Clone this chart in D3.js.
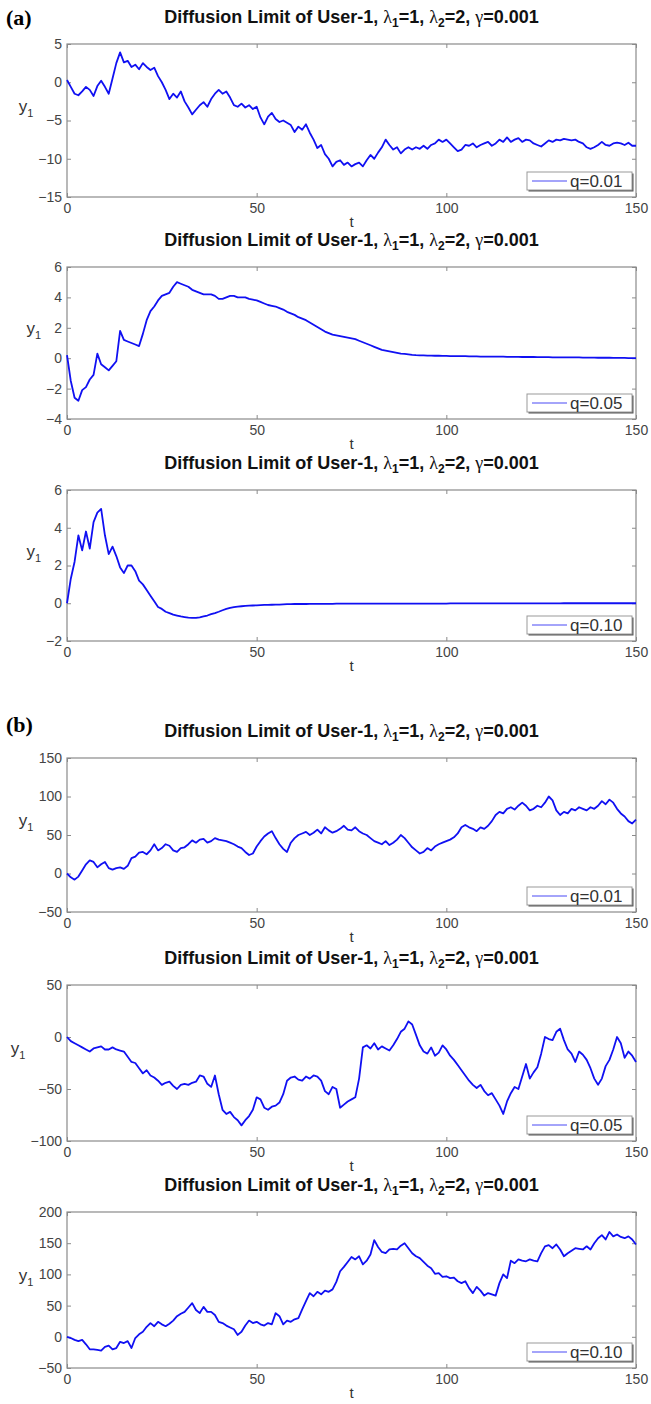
<!DOCTYPE html>
<html>
<head>
<meta charset="utf-8">
<script src="https://cdn.jsdelivr.net/npm/d3@7"></script>
<style>
  body { margin: 0; background: #fff; }
  text { font-family: "Liberation Sans", Arial, sans-serif; }
</style>
</head>
<body>
<script>
// ---- data (t = 0..150, one value per unit of t) ----
const xTicks = [0, 50, 100, 150];
const legendLabels = ["q=0.01", "q=0.05", "q=0.10", "q=0.01", "q=0.05", "q=0.10"];
const panelLetters = ["(a)", "(b)"];

const yTicksA1 = [-15, -10, -5, 0, 5];
const yTicksA2 = [-4, -2, 0, 2, 4, 6];
const yTicksA3 = [-2, 0, 2, 4, 6];
const yTicksB1 = [-50, 0, 50, 100, 150];
const yTicksB2 = [-100, -50, 0, 50];
const yTicksB3 = [-50, 0, 50, 100, 150, 200];

const seriesA1 = [
  0.3, -0.6, -1.5, -1.7, -1.2, -0.6, -1.0, -1.8, -0.5, 0.2,
  -0.6, -1.5, 0.5, 2.5, 3.9, 2.6, 2.8, 2.0, 2.3, 1.7,
  2.5, 2.0, 1.6, 1.9, 0.8, 0.0, -1.0, -2.2, -1.5, -2.0,
  -1.2, -2.5, -3.3, -4.2, -3.6, -3.0, -2.6, -3.2, -2.2, -1.5,
  -1.0, -1.5, -1.2, -2.0, -3.0, -3.2, -2.8, -3.3, -3.0, -3.5,
  -3.2, -4.6, -5.5, -4.5, -4.0, -4.8, -5.2, -5.0, -5.3, -5.6,
  -6.5, -5.8, -6.2, -5.5, -6.6, -7.5, -8.6, -8.2, -9.4, -10.0,
  -11.0, -10.4, -10.2, -10.8, -10.5, -11.0, -10.7, -10.5, -11.0, -10.2,
  -9.5, -10.0, -9.2, -8.5, -7.5, -8.2, -8.8, -8.5, -9.3, -8.8,
  -8.5, -8.8, -8.5, -8.7, -8.3, -8.7, -8.2, -8.0, -7.5, -7.8,
  -7.5, -8.0, -8.5, -9.0, -8.8, -8.2, -8.3, -8.0, -8.5, -8.2,
  -8.0, -7.8, -8.3, -8.0, -7.5, -7.8, -7.2, -7.8, -7.5, -7.3,
  -7.8, -7.5, -7.6, -8.0, -8.2, -8.4, -8.0, -7.6, -7.8, -7.5,
  -7.6, -7.4, -7.5, -7.6, -7.5, -7.8, -8.0, -8.5, -8.7, -8.5,
  -8.2, -7.8, -8.2, -8.3, -8.0, -7.9, -8.0, -8.2, -7.9, -8.3,
  -8.3
];

const seriesA2 = [
  0.2, -1.5, -2.6, -2.8, -2.1, -1.9, -1.4, -1.1, 0.3, -0.4,
  -0.6, -0.8, -0.5, -0.2, 1.8, 1.2, 1.1, 1.0, 0.9, 0.8,
  1.6, 2.5, 3.1, 3.4, 3.8, 4.1, 4.2, 4.3, 4.7, 5.0,
  4.9, 4.8, 4.7, 4.5, 4.4, 4.3, 4.2, 4.2, 4.2, 4.1,
  3.9, 3.9, 4.0, 4.1, 4.1, 4.0, 4.0, 4.0, 3.9, 3.85,
  3.8, 3.7, 3.6, 3.5, 3.45, 3.4, 3.3, 3.2, 3.05, 2.95,
  2.85, 2.7, 2.6, 2.5, 2.35, 2.2, 2.05, 1.9, 1.75, 1.65,
  1.55, 1.5, 1.45, 1.4, 1.35, 1.3, 1.25, 1.15, 1.05, 0.95,
  0.85, 0.75, 0.65, 0.55, 0.5, 0.45, 0.4, 0.35, 0.3, 0.28,
  0.25, 0.22, 0.2, 0.19, 0.18, 0.17, 0.17, 0.16, 0.16, 0.15,
  0.15, 0.14, 0.14, 0.13, 0.13, 0.13, 0.12, 0.12, 0.12, 0.11,
  0.11, 0.11, 0.1, 0.1, 0.1, 0.1, 0.09, 0.09, 0.09, 0.09,
  0.08, 0.08, 0.08, 0.08, 0.07, 0.07, 0.07, 0.07, 0.06, 0.06,
  0.06, 0.06, 0.05, 0.05, 0.05, 0.05, 0.04, 0.04, 0.04, 0.04,
  0.03, 0.03, 0.03, 0.03, 0.02, 0.02, 0.02, 0.02, 0.01, 0.01,
  0.0
];

const seriesA3 = [
  0.0, 1.3, 2.2, 3.6, 2.8, 3.8, 2.9, 4.3, 4.8, 5.0,
  3.6, 2.6, 3.0, 2.5, 1.9, 1.6, 2.0, 2.0, 1.7, 1.2,
  1.0, 0.7, 0.4, 0.1, -0.2, -0.3, -0.45, -0.52, -0.6, -0.65,
  -0.7, -0.73, -0.76, -0.78, -0.78, -0.75, -0.7, -0.65, -0.58, -0.52,
  -0.45, -0.37, -0.3, -0.25, -0.21, -0.18, -0.16, -0.14, -0.13, -0.12,
  -0.11, -0.1, -0.09, -0.09, -0.08, -0.07, -0.07, -0.06, -0.05, -0.05,
  -0.04, -0.04, -0.04, -0.04, -0.03, -0.03, -0.03, -0.03, -0.03, -0.03,
  -0.03, -0.02, -0.02, -0.02, -0.02, -0.02, -0.02, -0.02, -0.02, -0.02,
  -0.02, -0.02, -0.02, -0.02, -0.02, -0.02, -0.02, -0.02, -0.02, -0.02,
  -0.02, -0.02, -0.02, -0.02, -0.02, -0.02, -0.02, -0.02, -0.02, -0.02,
  -0.02, -0.01, -0.01, -0.01, -0.01, -0.01, -0.01, -0.01, -0.01, -0.01,
  -0.01, -0.01, -0.01, -0.01, -0.01, -0.01, -0.01, -0.01, -0.01, -0.01,
  -0.01, -0.01, -0.01, -0.01, -0.01, -0.01, -0.01, -0.01, -0.01, -0.01,
  -0.01, 0.0, 0.0, 0.0, 0.0, 0.0, 0.0, 0.0, 0.0, 0.0,
  0.0, 0.0, 0.0, 0.0, 0.0, 0.0, 0.0, 0.0, 0.0, 0.0,
  0.0
];

const seriesB1 = [
  0, -5, -8, -4, 4, 12, 17, 15, 8, 12,
  15, 7, 5, 7, 8, 6, 10, 20, 22, 27,
  28, 25, 30, 38, 30, 33, 38, 36, 30, 28,
  33, 34, 38, 43, 40, 44, 45, 40, 42, 46,
  44, 43, 42, 40, 38, 35, 33, 28, 24, 26,
  35, 42, 48, 52, 55, 46, 38, 32, 28, 40,
  46, 50, 52, 54, 50, 53, 57, 52, 60, 56,
  53, 55, 58, 62, 57, 56, 60, 55, 52, 50,
  46, 42, 40, 38, 42, 37, 40, 44, 50, 46,
  40, 34, 30, 26, 28, 33, 30, 35, 38, 40,
  42, 44, 47, 52, 60, 63, 60, 58, 55, 60,
  58, 62, 68, 76, 80, 78, 84, 86, 83, 88,
  92, 88, 82, 84, 88, 86, 92, 100, 95, 82,
  76, 80, 78, 84, 82, 86, 84, 82, 86, 84,
  88, 94, 90, 96, 92, 84, 78, 74, 68, 65,
  70
];

const seriesB2 = [
  0, -4, -6, -8, -10, -12, -14, -11, -10, -9,
  -12, -12, -10, -12, -13, -14, -19, -24, -25, -30,
  -35, -32, -37, -39, -42, -46, -44, -43, -47, -50,
  -46, -45, -46, -44, -43, -37, -38, -45, -48, -37,
  -55, -70, -74, -72, -77, -80, -85, -80, -76, -70,
  -58, -60, -68, -70, -67, -66, -63, -55, -42, -39,
  -38, -41, -42, -38, -40, -37, -38, -42, -52, -55,
  -48, -50, -68, -65, -62, -60, -58, -40, -10, -8,
  -11, -6, -12, -9, -11, -13, -8, -2, 5, 8,
  15, 12, 2, -8, -14, -16, -10, -18, -15, -8,
  -12, -18, -22, -27, -32, -37, -42, -46, -49, -46,
  -52, -56, -54, -60, -66, -74, -62, -54, -48, -50,
  -38, -26, -40, -34, -29, -16, 0, -2, -3, 5,
  8, -3, -12, -16, -24, -14, -17, -22, -30, -40,
  -46, -40, -28, -22, -12, 0, -6, -20, -14, -18,
  -24
];

const seriesB3 = [
  0, -2, -5, -7, -5, -12, -20, -20, -21, -22,
  -16, -14, -20, -18, -8, -10, -7, -18, -2, 4,
  8, 16, 22, 17, 24, 20, 17, 21, 26, 33,
  37, 40, 47, 54, 43, 38, 48, 40, 40, 35,
  24, 22, 18, 15, 12, 3, 8, 18, 26, 22,
  24, 20, 18, 22, 20, 38, 33, 20, 26, 24,
  28, 30, 44, 57, 70, 65, 72, 68, 74, 72,
  76, 88, 105, 112, 120, 128, 124, 129, 116, 122,
  132, 155, 144, 136, 134, 140, 141, 140, 146, 150,
  142, 134, 129, 126, 120, 114, 110, 101, 102, 96,
  97, 94, 95, 89, 86, 89, 78, 70, 80, 74,
  66, 70, 68, 66, 86, 100, 94, 122, 118, 124,
  122, 121, 124, 122, 121, 134, 145, 147, 142, 148,
  140, 129, 134, 138, 142, 141, 140, 145, 140, 150,
  158, 163, 156, 168, 161, 164, 160, 158, 161, 156,
  148
];

const seriesList = [seriesA1, seriesA2, seriesA3, seriesB1, seriesB2, seriesB3];
const yTickList = [yTicksA1, yTicksA2, yTicksA3, yTicksB1, yTicksB2, yTicksB3];

// ---- layout ----
const W = 651, H = 1404;
const axLeft = 67, axRight = 636;
const panelTops = [44, 267, 490, 758, 985, 1212];
const panelHeights = [153, 152, 151, 154, 156, 156];
const letterY = [25, 732];

const svg = d3.select("body").append("svg")
  .attr("width", W)
  .attr("height", H);

const x = d3.scaleLinear().domain([0, 150]).range([axLeft, axRight]);

panelLetters.forEach((s, i) => {
  svg.append("text")
    .attr("x", 6)
    .attr("y", letterY[i])
    .style("font-family", "'Liberation Serif', 'Times New Roman', serif")
    .style("font-weight", "bold")
    .style("font-size", "22px")
    .text(s);
});

seriesList.forEach((data, p) => {
  const top = panelTops[p];
  const bottom = top + panelHeights[p];
  const yt = yTickList[p];
  const y = d3.scaleLinear().domain([yt[0], yt[yt.length - 1]]).range([bottom, top]);
  const g = svg.append("g").attr("class", "panel");

  // frame
  g.append("rect")
    .attr("x", axLeft).attr("y", top)
    .attr("width", axRight - axLeft).attr("height", bottom - top)
    .attr("fill", "#fff").attr("stroke", "#8a8a8a").attr("stroke-width", 1.2);

  // axes with inward ticks on all four sides
  const tickColor = "#8a8a8a";
  const axB = g.append("g").attr("transform", `translate(0,${bottom})`)
    .call(d3.axisBottom(x).tickValues(xTicks).tickSizeInner(-4).tickSizeOuter(0).tickPadding(6));
  const axT = g.append("g").attr("transform", `translate(0,${top})`)
    .call(d3.axisTop(x).tickValues(xTicks).tickSizeInner(-4).tickSizeOuter(0).tickFormat(""));
  const axL = g.append("g").attr("transform", `translate(${axLeft},0)`)
    .call(d3.axisLeft(y).tickValues(yt).tickSizeInner(-4).tickSizeOuter(0).tickPadding(5));
  const axR = g.append("g").attr("transform", `translate(${axRight},0)`)
    .call(d3.axisRight(y).tickValues(yt).tickSizeInner(-4).tickSizeOuter(0).tickFormat(""));
  [axB, axT, axL, axR].forEach(a => {
    a.select(".domain").remove();
    a.selectAll("line").attr("stroke", tickColor);
    a.selectAll("text")
      .attr("fill", "#444")
      .style("font-size", "14px")
      .style("font-family", "'Liberation Sans', Arial, sans-serif");
  });
  axB.selectAll("text").attr("dy", "0.71em");

  // curve
  const line = d3.line()
    .x((d, i) => x(i))
    .y(d => y(d));
  g.append("path")
    .datum(data)
    .attr("fill", "none")
    .attr("stroke", "#1010f2")
    .attr("stroke-width", 1.8)
    .attr("stroke-linejoin", "round")
    .attr("d", line);

  // title
  const cx = (axLeft + axRight) / 2;
  const title = g.append("text")
    .attr("x", cx)
    .attr("y", top - 21)
    .attr("text-anchor", "middle")
    .style("font-weight", "bold")
    .style("font-size", "18px")
    .attr("fill", "#111");
  const greek = "'Liberation Serif', 'DejaVu Serif', serif";
  title.append("tspan").text("Diffusion Limit of User-1, ");
  title.append("tspan").style("font-family", greek).style("font-weight", "normal").text("\u03bb");
  title.append("tspan").attr("dy", 4).style("font-size", "12px").text("1");
  title.append("tspan").attr("dy", -4).text("=1, ");
  title.append("tspan").style("font-family", greek).style("font-weight", "normal").text("\u03bb");
  title.append("tspan").attr("dy", 4).style("font-size", "12px").text("2");
  title.append("tspan").attr("dy", -4).text("=2, ");
  title.append("tspan").style("font-family", greek).style("font-weight", "normal").text("\u03b3");
  title.append("tspan").text("=0.001");

  // x label
  g.append("text")
    .attr("x", cx)
    .attr("y", bottom + 30)
    .attr("text-anchor", "middle")
    .attr("fill", "#333")
    .style("font-size", "15px")
    .text("t");

  // y label, placed left of the widest tick label
  let maxW = 0;
  axL.selectAll("text").each(function () {
    maxW = Math.max(maxW, this.getComputedTextLength());
  });
  const yl = g.append("text")
    .attr("x", axLeft - 5 - maxW - 5)
    .attr("y", (top + bottom) / 2 - 9)
    .attr("text-anchor", "end")
    .attr("fill", "#333")
    .style("font-size", "17px");
  yl.append("tspan").text("y");
  yl.append("tspan").attr("dy", 5).style("font-size", "11px").text("1");

  // legend
  const lw = 105, lh = 18;
  const lx = axRight - 4 - lw, ly = bottom - 7 - lh;
  g.append("rect")
    .attr("x", lx + 1.5).attr("y", ly + 1.5)
    .attr("width", lw).attr("height", lh)
    .attr("fill", "#555");
  g.append("rect")
    .attr("x", lx).attr("y", ly)
    .attr("width", lw).attr("height", lh)
    .attr("fill", "#fff").attr("stroke", "#999").attr("stroke-width", 1);
  g.append("line")
    .attr("x1", lx + 5).attr("x2", lx + 40)
    .attr("y1", ly + lh / 2).attr("y2", ly + lh / 2)
    .attr("stroke", "#4a4af5").attr("stroke-width", 1.2);
  g.append("text")
    .attr("x", lx + 43)
    .attr("y", ly + lh / 2)
    .attr("dy", "0.36em")
    .attr("fill", "#333")
    .style("font-size", "17px")
    .text(legendLabels[p]);
});
</script>
</body>
</html>
